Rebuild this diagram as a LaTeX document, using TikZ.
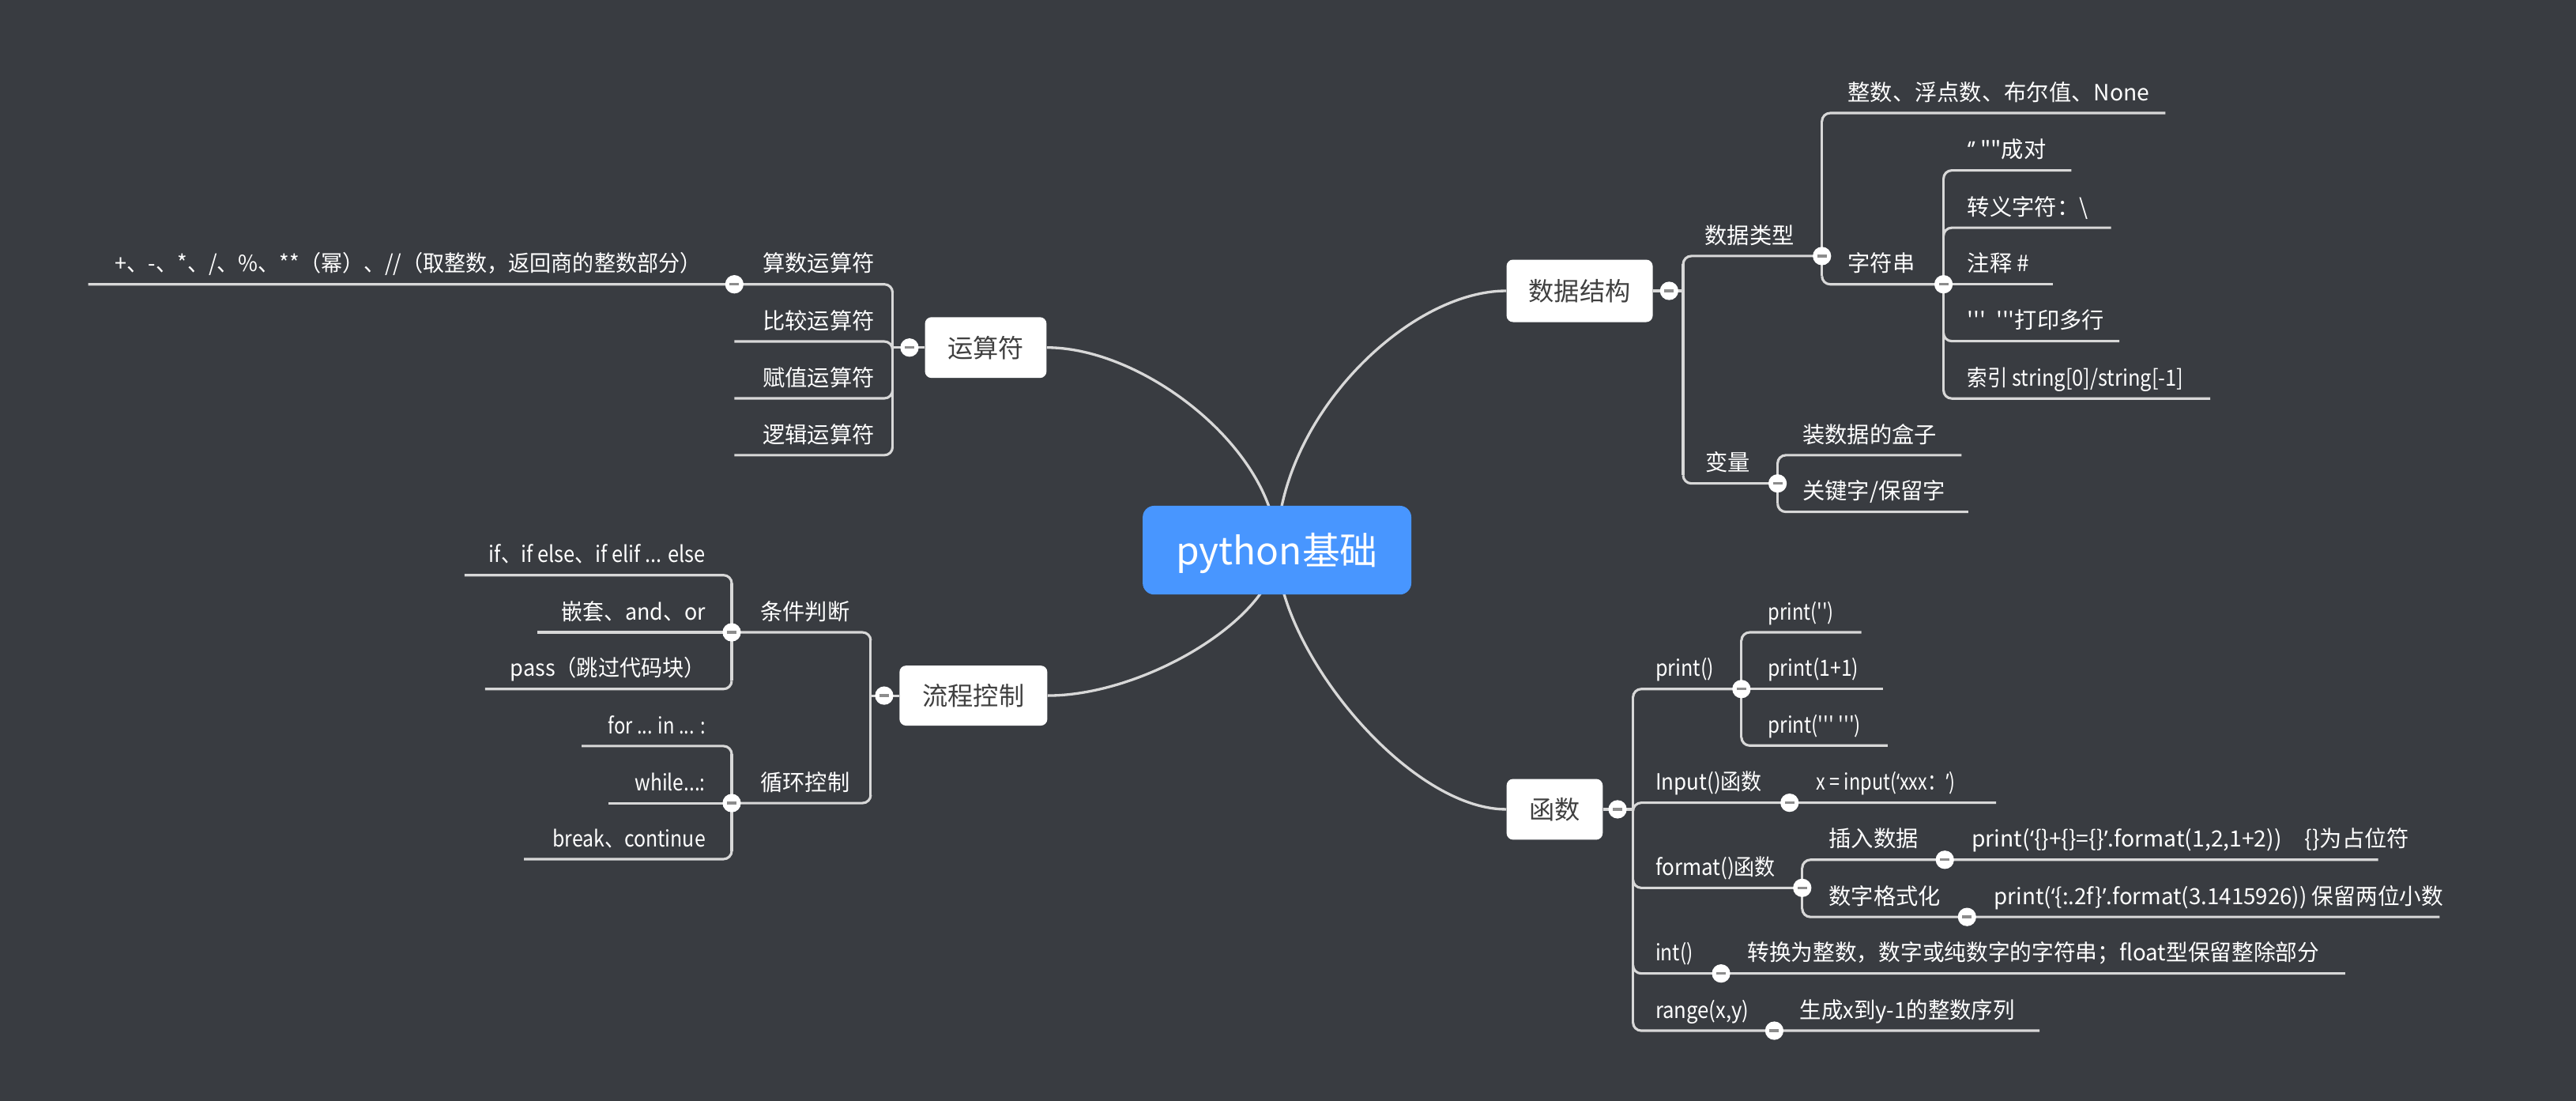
\documentclass[tikz,border=0pt]{standalone}
\usepackage{graphicx}
\usepackage{fontspec}
\newfontfamily\cjk{Noto Sans CJK SC}
\newfontfamily\latn{Noto Sans}
\definecolor{bgc}{RGB}{57,60,65}
\definecolor{rootc}{RGB}{72,150,255}
\definecolor{linec}{RGB}{216,216,216}
\definecolor{topt}{RGB}{64,64,64}
\definecolor{btnc}{RGB}{140,140,140}
\pgfdeclarelayer{back}\pgfdeclarelayer{wires}\pgfsetlayers{back,wires,main}
\tikzset{
 ln/.style={draw=linec,line width=1.5pt},
 rootln/.style={draw=linec,line width=1.6pt},
 lbl/.style={font=\cjk\fontsize{13.6}{16}\selectfont,text=white,inner sep=0pt},
 lw/.style={lbl,anchor=base west},
 le/.style={lbl,anchor=base east},
 topic/.style={rectangle,rounded corners=4pt,fill=white,text=topt,inner sep=0pt,
   font=\cjk\fontsize{15.5}{18}\selectfont,text height=12.9pt,text depth=1.1pt},
 rootbox/.style={rectangle,rounded corners=7pt,fill=rootc,text=white,inner sep=0pt,
   font=\cjk\fontsize{23}{27}\selectfont,text height=19.1pt,text depth=1.6pt,
   minimum width=163.5pt,minimum height=54pt},
 cbtn/.style={circle,fill=white,inner sep=0pt,minimum size=11.2pt,
   path picture={\fill[btnc] ([xshift=-2.9pt,yshift=-0.8pt]path picture bounding box.center)
     rectangle ([xshift=2.9pt,yshift=0.8pt]path picture bounding box.center);}},
}
% child connector: spine x, parent y, child y, end x
\newcommand\kid[4]{\pgfmathsetmacro\kya{(#2>#3)?(#3+5):(#3-5)}%
  \draw[ln,rounded corners=5pt] (#1,\kya) -- (#1,#3) -- (#4,#3);}
\newcommand\spine[3]{\draw[ln] (#1,#2+5) -- (#1,#3-5);}
\newcommand\sx[2]{\scalebox{#1}[1]{#2}}
\begin{document}
\begin{tikzpicture}[x=1pt,y=-1pt]
\useasboundingbox (0,0) rectangle (1568,670);
\begin{pgfonlayer}{back}
\fill[bgc] (0,0) rectangle (1568,670);
\end{pgfonlayer}

% main nodes
\node[rootbox] (root) at (777.3,334.8) {python基础};
\node[topic,minimum width=74pt,minimum height=37pt] (ysf) at (600,211.5) {运算符};
\node[topic,minimum width=89pt,minimum height=38pt] (sjjg) at (961.5,177) {数据结构};
\node[topic,minimum width=90pt,minimum height=36.5pt] (lckz) at (592.5,423.3) {流程控制};
\node[topic,minimum width=58.5pt,minimum height=37pt] (hs) at (946.3,492.5) {函数};

\begin{pgfonlayer}{wires}
\draw[rootln] (root.center) .. controls +(0,-80) and +(-60,0) .. (sjjg.west);
\draw[rootln] (root.center) .. controls +(0,-60) and +(60,0) .. (ysf.east);
\draw[rootln] (root.center) .. controls +(0,40) and +(60,0) .. (lckz.east);
\draw[rootln] (root.center) .. controls +(0,60) and +(-60,0) .. (hs.west);

% 运算符
\draw[ln] (ysf.west) -- (543.3,211.5);
\spine{543.3}{173}{277}
\kid{543.3}{211.5}{173}{53.7}
\kid{543.3}{211.5}{207.8}{447}
\kid{543.3}{211.5}{242.4}{447}
\kid{543.3}{211.5}{277}{447}

% 数据结构
\draw[ln] (sjjg.east) -- (1024.5,177);
\spine{1024.5}{155.8}{294.2}
\kid{1024.5}{177}{155.8}{1109}
\kid{1024.5}{177}{294.2}{1082}
\spine{1109}{68.8}{173}
\kid{1109}{155.8}{68.8}{1318}
\kid{1109}{155.8}{173}{1183}
\spine{1183}{103.7}{242.5}
\kid{1183}{173}{103.7}{1260.8}
\kid{1183}{173}{138.6}{1285}
\draw[ln] (1183,173) -- (1249.4,173);
\kid{1183}{173}{207.6}{1290}
\kid{1183}{173}{242.5}{1345.4}
\spine{1082}{277}{311.5}
\kid{1082}{294.2}{277}{1194}
\kid{1082}{294.2}{311.5}{1198}

% 函数
\draw[ln] (hs.east) -- (994,492.5);
\spine{994}{419.3}{627.2}
\kid{994}{492.5}{419.3}{1060}
\kid{994}{492.5}{488.5}{1215}
\kid{994}{492.5}{540.3}{1097}
\kid{994}{492.5}{592.4}{1427.5}
\kid{994}{492.5}{627.2}{1241.5}
\spine{1060}{384.8}{453.7}
\kid{1060}{419.3}{384.8}{1133}
\draw[ln] (1060,419.3) -- (1146,419.3);
\kid{1060}{419.3}{453.7}{1149}
\spine{1097}{523.2}{558}
\kid{1097}{540.3}{523.2}{1447.5}
\kid{1097}{540.3}{558}{1485}

% 流程控制
\draw[ln] (lckz.west) -- (530,423.3);
\spine{530}{384.8}{488.7}
\kid{530}{423.3}{384.8}{445.4}
\kid{530}{423.3}{488.7}{445.4}
\spine{445.4}{350}{419.3}
\kid{445.4}{384.8}{350}{282.8}
\draw[ln] (445.4,384.8) -- (327,384.8);
\kid{445.4}{384.8}{419.3}{295.2}
\spine{445.4}{454}{522.8}
\kid{445.4}{488.7}{454}{354}
\draw[ln] (445.4,488.7) -- (370.4,488.7);
\kid{445.4}{488.7}{522.8}{319}
\end{pgfonlayer}

% collapse buttons
\node[cbtn] (b1) at (553.6,211.5) {};
\node[cbtn] (b2) at (1016,177) {};
\node[cbtn] (b3) at (538.2,423.3) {};
\node[cbtn] (b4) at (984.6,492.5) {};
\node[cbtn] (b5) at (447,173) {};
\node[cbtn] (b6) at (1109,155.8) {};
\node[cbtn] (b7) at (1183,173) {};
\node[cbtn] (b8) at (1082,294.2) {};
\node[cbtn] (b9) at (1060,419.3) {};
\node[cbtn] (b10) at (1089.3,488.5) {};
\node[cbtn] (b11) at (1097,540.3) {};
\node[cbtn] (b12) at (1183.8,523.2) {};
\node[cbtn] (b13) at (1197.3,558) {};
\node[cbtn] (b14) at (1047.6,592.4) {};
\node[cbtn] (b15) at (1080,627.2) {};
\node[cbtn] (b16) at (445.4,384.8) {};
\node[cbtn] (b17) at (445.4,488.7) {};

% 运算符 labels
\node[le] (a1) at (532.5,165.4) {算数运算符};
\node[le] (a2) at (532.5,200.2) {比较运算符};
\node[le] (a3) at (532.5,234.8) {赋值运算符};
\node[le] (a4) at (532.5,269.4) {逻辑运算符};
\node[le] (a5) at (427,165.4) {\sx{0.957}{+、-、*、/、\%、**（幂）、//（取整数，返回商的整数部分）}};

% 流程控制 labels
\node[lw] (f1) at (462.7,377.2) {条件判断};
\node[lw] (f2) at (462.7,481.1) {循环控制};
\node[le] (f3) at (429.6,342.4) {\sx{0.90}{if、if else、if elif ... else}};
\node[le] (f4) at (429.6,377.2) {\sx{0.95}{嵌套、and、or}};
\node[le] (f5) at (429.6,411.7) {\sx{0.96}{pass（跳过代码块）}};
\node[le] (f6) at (429.6,446.4) {\sx{0.84}{for ... in ... :}};
\node[le] (f7) at (429.6,481.1) {\sx{0.87}{while...:}};
\node[le] (f8) at (429.6,515.2) {\sx{0.88}{break、continue}};

% 数据结构 labels
\node[lw] (d1) at (1037.5,148.2) {数据类型};
\node[lw] (d2) at (1038,286.6) {变量};
\node[lw] (d3) at (1124.6,61.2) {整数、浮点数、布尔值、None};
\node[lw] (d4) at (1124.6,165.4) {字符串};
\node[lw] (d5) at (1197.4,96.1) {{\latn ‘’} ""成对};
\node[lw] (d6) at (1197.4,131) {转义字符：\textbackslash};
\node[lw] (d7) at (1197.4,165.4) {注释 \#};
\node[lw] (d8) at (1197.4,200) {'''\ \ '''打印多行};
\node[lw] (d9) at (1197.4,234.9) {\sx{0.90}{索引 string[0]/string[-1]}};
\node[lw] (d10) at (1097,269.4) {装数据的盒子};
\node[lw] (d11) at (1097,303.9) {关键字/保留字};

% 函数 labels
\node[lw] (h1) at (1007.5,411.7) {\sx{0.89}{print()}};
\node[lw] (h2) at (1076,377.2) {\sx{0.84}{print('')}};
\node[lw] (h3) at (1076,411.7) {\sx{0.88}{print(1+1)}};
\node[lw] (h4) at (1076,446.1) {\sx{0.86}{print(''' ''')}};
\node[lw] (h5) at (1007.5,480.9) {\sx{0.92}{Input()函数}};
\node[lw] (h6) at (1105.3,480.9) {\sx{0.83}{x = input({\latn ‘}xxx：{\latn ’})}};
\node[lw] (h7) at (1007.5,532.7) {\sx{0.92}{format()函数}};
\node[lw] (h8) at (1113,515.6) {插入数据};
\node[lw] (h9) at (1200,515.6) {print({\latn ‘}\{\}+\{\}=\{\}{\latn ’}.format(1,2,1+2))\hspace{14pt}\{\}为占位符};
\node[lw] (h10) at (1113,550.4) {数字格式化};
\node[lw] (h11) at (1213.6,550.4) {\sx{0.98}{print({\latn ‘}\{:.2f\}{\latn ’}.format(3.1415926)) 保留两位小数}};
\node[lw] (h12) at (1007.5,584.8) {\sx{0.87}{int()}};
\node[lw] (h13) at (1063.4,584.8) {\sx{0.98}{转换为整数，数字或纯数字的字符串；float型保留整除部分}};
\node[lw] (h14) at (1007.5,619.6) {\sx{0.91}{range(x,y)}};
\node[lw] (h15) at (1095.3,619.6) {\sx{0.97}{生成x到y-1的整数序列}};
\end{tikzpicture}
\end{document}
